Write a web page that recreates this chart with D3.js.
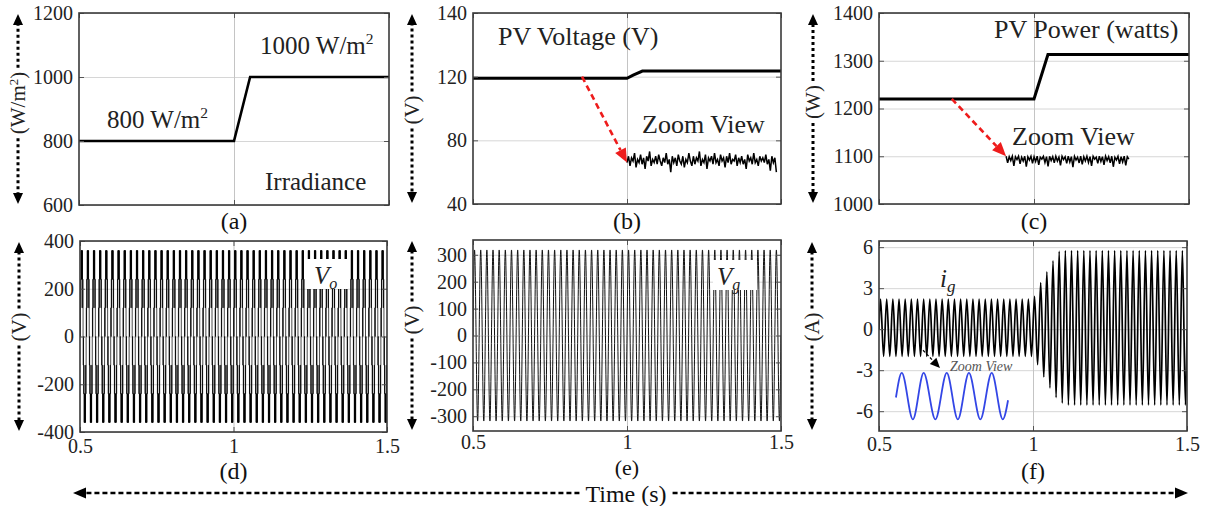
<!DOCTYPE html>
<html lang="en">
<head>
<meta charset="utf-8">
<title>PV system waveforms</title>
<script src="https://cdn.jsdelivr.net/npm/d3@7"></script>
<style>
  body { margin: 0; background: #fff; }
  svg, svg text { font-family: "Liberation Serif", "DejaVu Serif", serif !important; }
</style>
</head>
<body>
<script>
var W = 1210, H = 506;
var SERIF = "'Liberation Serif', 'DejaVu Serif', serif";

// ---------- data ----------
var timeDomain = [0.5, 1.5];
var timeTicks = [0.5, 1, 1.5];
var timeTickLabels = ["0.5", "1", "1.5"];

// (a) irradiance
var irrTime = [0.5, 1.0, 1.052, 1.5];
var irrValue = [800, 800, 1000, 1000];
var irrTicks = [600, 800, 1000, 1200];

// (b) PV voltage + zoom view ripple (1.0 -> 1.485 s)
var pvvTime = [0.5, 1.0, 1.02, 1.05, 1.5];
var pvvValue = [119, 119, 121, 123.5, 123.5];
var pvvTicks = [40, 80, 120, 160];
var pvvTickLabels = ["40", "80", "120", "140"];
var pvvZoom = [66,70,64,69,67,72,63,68,66,71, 65,69,62,70,67,73,64,68,66,70,
               65,71,67,64,69,66,72,65,68,60, 70,66,69,64,71,67,65,70,63,68,
               66,72,67,64,70,65,69,67,73,64, 68,66,71,62,69,67,70,65,72,66,
               68,64,71,67,69,63,70,66,72,65, 68,67,71,64,69,66,70,65,68,62,
               71,67,69,65,72,66,68,64,70,67, 69,66,71,65,68,61,70,66,69,60];
var pvvZoomSpan = [1.0, 1.485];

// (c) PV power + zoom view ripple (0.91 -> 1.306 s)
var pvpTime = [0.5, 1.0, 1.045, 1.5];
var pvpValue = [1220, 1220, 1313, 1313];
var pvpTicks = [1000, 1100, 1200, 1300, 1400];
var pvpZoom = [1100,1086,1099,1091,1100,1080,1099,1093,1100,1084,
               1098,1090,1100,1078,1099,1092,1100,1085,1099,1089,
               1100,1082,1098,1094,1100,1087,1099,1079,1100,1091,
               1099,1086,1100,1090,1098,1081,1100,1093,1099,1085,
               1100,1088,1099,1077,1100,1092,1098,1086,1100,1083,
               1099,1090,1100,1087,1099,1080,1100,1094,1098,1085,
               1100,1089,1099,1082,1100,1091,1099,1086,1100,1078,
               1098,1092,1100,1084,1099,1088,1100,1081,1099,1094];
var pvpZoomSpan = [0.91, 1.306];

// (d) inverter output Vo: one cycle of switching levels (x 120 V), 50 cycles
var voLevels = [0,1,0,1,2,1,2,3,2,3,2,3,2,3,2,3,2,1,2,1,
                0,-1,0,-1,-2,-1,-2,-3,-2,-3,-2,-3,-2,-3,-2,-3,-2,-1,-2,-1];
var voStep = 120;
var voCycles = 50;
var voTicks = [-400, -200, 0, 200, 400];

// (e) grid voltage Vg: peak / trough per cycle
var vgPeak = [318,318,318,318,318,318,318,318,318,318, 318,318,318,318,318,318,318,318,318,318,
              318,318,318,318,318,318,318,318,318,318, 318,318,318,318,318,318,318,318,318,318,
              318,318,318,318,318,318,318,318,318,318];
var vgTrough = [-318,-318,-318,-318,-318,-318,-318,-318,-318,-318, -318,-318,-318,-318,-318,-318,-318,-318,-318,-318,
                -318,-318,-318,-318,-318,-318,-318,-318,-318,-318, -318,-318,-318,-318,-318,-318,-318,-318,-318,-318,
                -318,-318,-318,-318,-318,-318,-318,-318,-318,-318];
var vgTicks = [-300, -200, -100, 0, 100, 200, 300];

// (f) grid current ig: peak / trough per cycle
var igPeak = [2.2,2.2,2.2,2.2,2.2,2.2,2.2,2.2,2.2,2.2, 2.2,2.2,2.2,2.2,2.2,2.2,2.2,2.2,2.2,2.2,
              2.2,2.2,2.2,2.2,2.2,2.4,3.4,4.2,5.0,5.7, 5.75,5.75,5.75,5.75,5.75,5.75,5.75,5.75,5.75,5.75,
              5.75,5.75,5.75,5.75,5.75,5.75,5.75,5.75,5.75,5.75];
var igTrough = [-2.0,-2.0,-2.0,-2.0,-2.0,-2.0,-2.0,-2.0,-2.0,-2.0, -2.0,-2.0,-2.0,-2.0,-2.0,-2.0,-2.0,-2.0,-2.0,-2.0,
                -2.0,-2.0,-2.0,-2.0,-2.0,-2.6,-3.5,-4.3,-5.0,-5.4, -5.55,-5.55,-5.55,-5.55,-5.55,-5.55,-5.55,-5.55,-5.55,-5.55,
                -5.55,-5.55,-5.55,-5.55,-5.55,-5.55,-5.55,-5.55,-5.55,-5.55];
var igTicks = [-6, -3, 0, 3, 6];
// zoom-view inset (blue)
var insetTime = [0.555, 0.574, 0.61, 0.645, 0.683, 0.72, 0.756, 0.792, 0.829, 0.866, 0.902, 0.919];
var insetValue = [-5.0, -3.2, -6.6, -3.2, -6.6, -3.2, -6.6, -3.2, -6.6, -3.2, -6.6, -5.2];

// ---------- layout ----------
var panels = [
  { id: "a", x: 79,  y: 13,  w: 310, h: 192, yDomain: [600, 1200], yTicks: irrTicks, title: "(W/m2)", titleX: 18,  titleY: 103, tag: "(a)", tagY: 229, tagSize: 24 },
  { id: "b", x: 473, y: 13,  w: 308, h: 191, yDomain: [40, 160],   yTicks: pvvTicks, yLabels: pvvTickLabels, title: "(V)", titleX: 412, titleY: 110, tag: "(b)", tagY: 229, tagSize: 24 },
  { id: "c", x: 879, y: 13,  w: 310, h: 191, yDomain: [1000, 1400], yTicks: pvpTicks, title: "(W)", titleX: 813, titleY: 102, tag: "(c)", tagY: 229, tagSize: 24 },
  { id: "d", x: 80,  y: 241, w: 307, h: 191, yDomain: [-400, 400], yTicks: voTicks, title: "(V)", titleX: 19,  titleY: 327, tag: "(d)", tagY: 479, tagSize: 24, xLabels: true, xPad: 7 },
  { id: "e", x: 473, y: 240, w: 308, h: 191, yDomain: [-355, 355], yTicks: vgTicks, title: "(V)", titleX: 412, titleY: 320, tag: "(e)", tagY: 475, tagSize: 22, xLabels: true, xPad: 4 },
  { id: "f", x: 879, y: 241, w: 308, h: 190, yDomain: [-7.45, 6.45], yTicks: igTicks, title: "(A)", titleX: 812, titleY: 327, tag: "(f)", tagY: 479, tagSize: 24, xLabels: true, xPad: 6 }
];

var svg = d3.select("body").append("svg")
    .attr("width", W)
    .attr("height", H)
    .attr("font-family", SERIF);

var P = {};

// ---------- helpers ----------
function head(sel, x1, y1, x2, y2, len, wid, color) {
  var a = Math.atan2(y2 - y1, x2 - x1);
  var bx = x2 - len * Math.cos(a), by = y2 - len * Math.sin(a);
  var px = -Math.sin(a) * wid / 2, py = Math.cos(a) * wid / 2;
  sel.append("path")
     .attr("d", "M" + x2 + "," + y2 + "L" + (bx + px) + "," + (by + py) + "L" + (bx - px) + "," + (by - py) + "Z")
     .attr("fill", color);
  return [bx, by];
}

function dashedArrow(sel, x1, y1, x2, y2, o) {
  var b = head(sel, x1, y1, x2, y2, o.len, o.wid, o.color);
  sel.append("line")
     .attr("x1", x1).attr("y1", y1).attr("x2", b[0]).attr("y2", b[1])
     .attr("stroke", o.color).attr("stroke-width", o.sw)
     .attr("stroke-dasharray", o.dash);
}

// ---------- panels ----------
panels.forEach(function(p) {
  var x = d3.scaleLinear().domain(timeDomain).range([0, p.w]);
  var y = d3.scaleLinear().domain(p.yDomain).range([p.h, 0]);
  var g = svg.append("g").attr("transform", "translate(" + p.x + "," + p.y + ")");
  p.xs = x; p.ys = y; p.g = g;
  P[p.id] = p;

  g.append("clipPath").attr("id", "clip-" + p.id)
   .append("rect").attr("width", p.w).attr("height", p.h);

  // grid
  g.append("g")
   .call(d3.axisLeft(y).tickValues(p.yTicks).tickSize(-p.w).tickFormat(""))
   .call(function(s) { s.select(".domain").remove(); })
   .selectAll("line").attr("stroke", "#d6d6d6").attr("stroke-width", 1);
  g.append("g")
   .attr("transform", "translate(0," + p.h + ")")
   .call(d3.axisBottom(x).tickValues([1]).tickSize(-p.h).tickFormat(""))
   .call(function(s) { s.select(".domain").remove(); })
   .selectAll("line").attr("stroke", "#c4c4c4").attr("stroke-width", 1);

  // y labels
  g.append("g")
   .call(d3.axisLeft(y).tickValues(p.yTicks).tickSize(0).tickPadding(6)
     .tickFormat(function(d, i) { return p.yLabels ? p.yLabels[i] : d; }))
   .call(function(s) { s.select(".domain").remove(); })
   .attr("font-family", SERIF).attr("font-size", 20)
   .selectAll("text").attr("fill", "#222");

  if (p.xLabels) {
    g.append("g")
     .attr("transform", "translate(0," + p.h + ")")
     .call(d3.axisBottom(x).tickValues(timeTicks).tickSize(0).tickPadding(p.xPad)
       .tickFormat(function(d, i) { return timeTickLabels[i]; }))
     .call(function(s) { s.select(".domain").remove(); })
     .attr("font-family", SERIF).attr("font-size", 20)
     .selectAll("text").attr("fill", "#222");
  }

  p.plot = g.append("g").attr("clip-path", "url(#clip-" + p.id + ")");
});

var line = function(p, curve) {
  return d3.line()
    .x(function(d) { return p.xs(d[0]); })
    .y(function(d) { return p.ys(d[1]); })
    .curve(curve || d3.curveLinear);
};

// (a)
var pa = P.a;
pa.plot.append("path")
  .datum(irrTime.map(function(t, i) { return [t, irrValue[i]]; }))
  .attr("d", line(pa)).attr("fill", "none").attr("stroke", "#000").attr("stroke-width", 2.6);

// (b)
var pb = P.b;
pb.plot.append("path")
  .datum(pvvTime.map(function(t, i) { return [t, pvvValue[i]]; }))
  .attr("d", line(pb)).attr("fill", "none").attr("stroke", "#000").attr("stroke-width", 3);
pb.plot.append("path")
  .datum(pvvZoom.map(function(v, i) {
    return [pvvZoomSpan[0] + (pvvZoomSpan[1] - pvvZoomSpan[0]) * i / (pvvZoom.length - 1), v];
  }))
  .attr("d", line(pb)).attr("fill", "none").attr("stroke", "#000").attr("stroke-width", 1.5);

// (c)
var pc = P.c;
pc.plot.append("path")
  .datum(pvpTime.map(function(t, i) { return [t, pvpValue[i]]; }))
  .attr("d", line(pc)).attr("fill", "none").attr("stroke", "#000").attr("stroke-width", 3);
pc.plot.append("path")
  .datum(pvpZoom.map(function(v, i) {
    return [pvpZoomSpan[0] + (pvpZoomSpan[1] - pvpZoomSpan[0]) * i / (pvpZoom.length - 1), v];
  }))
  .attr("d", line(pc)).attr("fill", "none").attr("stroke", "#000").attr("stroke-width", 1.5);

// (d)
var pd = P.d;
var voPoints = [];
for (var k = 0; k < voCycles; k++) {
  voLevels.forEach(function(lv, j) {
    voPoints.push([0.5 + (k + j / voLevels.length) / voCycles, lv * voStep]);
  });
}
voPoints.push([1.5, 0]);
pd.plot.append("path")
  .datum(voPoints)
  .attr("d", line(pd, d3.curveStepAfter)).attr("fill", "none").attr("stroke", "#000").attr("stroke-width", 0.7);

// (e)
var pe = P.e;
var vgPoints = [[0.5, 0]];
vgPeak.forEach(function(v, k) {
  vgPoints.push([0.5 + (k + 0.25) / vgPeak.length, v]);
  vgPoints.push([0.5 + (k + 0.75) / vgPeak.length, vgTrough[k]]);
});
vgPoints.push([1.5, 0]);
pe.plot.append("path")
  .datum(vgPoints)
  .attr("d", line(pe, d3.curveMonotoneX)).attr("fill", "none").attr("stroke", "#111").attr("stroke-width", 1);

// (f)
var pf = P.f;
var igPoints = [[0.5, 0]];
igPeak.forEach(function(v, k) {
  igPoints.push([0.5 + (k + 0.25) / igPeak.length, v]);
  igPoints.push([0.5 + (k + 0.75) / igPeak.length, igTrough[k]]);
});
igPoints.push([1.5, 0]);
pf.plot.append("path")
  .datum(igPoints)
  .attr("d", line(pf, d3.curveMonotoneX)).attr("fill", "none").attr("stroke", "#000").attr("stroke-width", 1.7);
pf.plot.append("path")
  .datum(insetTime.map(function(t, i) { return [t, insetValue[i]]; }))
  .attr("d", line(pf, d3.curveMonotoneX)).attr("fill", "none").attr("stroke", "#3346e6").attr("stroke-width", 1.8);

// ---------- frames + inner ticks ----------
panels.forEach(function(p) {
  var g = p.g;
  [["axisLeft", 0], ["axisRight", p.w]].forEach(function(a) {
    g.append("g").attr("transform", "translate(" + a[1] + ",0)")
     .call(d3[a[0]](p.ys).tickValues(p.yTicks).tickSize(-5).tickFormat(""))
     .call(function(s) { s.select(".domain").remove(); })
     .selectAll("line").attr("stroke", "#555");
  });
  [["axisBottom", p.h], ["axisTop", 0]].forEach(function(a) {
    g.append("g").attr("transform", "translate(0," + a[1] + ")")
     .call(d3[a[0]](p.xs).tickValues(timeTicks).tickSize(-5).tickFormat(""))
     .call(function(s) { s.select(".domain").remove(); })
     .selectAll("line").attr("stroke", "#555");
  });
  g.append("rect").attr("width", p.w).attr("height", p.h)
   .attr("fill", "none").attr("stroke", "#3a3a3a").attr("stroke-width", 1.6);

  // panel tag
  svg.append("text").attr("x", p.x + p.w / 2).attr("y", p.tagY)
     .attr("text-anchor", "middle").attr("font-size", p.tagSize).attr("fill", "#111").text(p.tag);

  // vertical axis title with dashed double arrow
  var tg = svg.append("g").attr("transform", "translate(" + p.titleX + "," + p.titleY + ") rotate(-90)");
  var tt = tg.append("text").attr("text-anchor", "middle").attr("dy", "0.33em")
     .attr("font-size", 21).attr("fill", "#222");
  if (p.title === "(W/m2)") {
    tt.append("tspan").text("(W/m");
    tt.append("tspan").attr("font-size", 13).attr("dy", "-0.55em").text("2");
    tt.append("tspan").attr("dy", "0.35em").text(")");
  } else {
    tt.text(p.title);
  }
  var half = tt.node().getComputedTextLength() / 2 + 4;
  var o = { len: 11, wid: 10, color: "#000", sw: 3, dash: "3,3" };
  dashedArrow(svg, p.titleX, p.titleY - half, p.titleX, p.y + 1, o);
  dashedArrow(svg, p.titleX, p.titleY + half, p.titleX, p.y + p.h - 1, o);
});

// ---------- annotations ----------
function sup(sel, x, yb, base, size) {
  var t = sel.append("text").attr("x", x).attr("y", yb).attr("font-size", size).attr("fill", "#222");
  t.append("tspan").text(base);
  t.append("tspan").attr("font-size", size * 0.62).attr("dy", -size * 0.42).text("2");
  return t;
}
sup(svg, 260, 54, "1000 W/m", 25);
sup(svg, 107, 128, "800 W/m", 25);
svg.append("text").attr("x", 265).attr("y", 190).attr("font-size", 25).attr("fill", "#222").text("Irradiance");

svg.append("text").attr("x", 498).attr("y", 45).attr("font-size", 26).attr("fill", "#222").text("PV Voltage (V)");
svg.append("text").attr("x", 642).attr("y", 133).attr("font-size", 26).attr("fill", "#222").text("Zoom View");
svg.append("text").attr("x", 994).attr("y", 38).attr("font-size", 26).attr("fill", "#222").text("PV Power (watts)");
svg.append("text").attr("x", 1012).attr("y", 145).attr("font-size", 26).attr("fill", "#222").text("Zoom View");

// red zoom arrows
var red = { len: 14, wid: 12, color: "#ee1c1c", sw: 2.6, dash: "6,4" };
dashedArrow(pb.g, pb.xs(0.854), pb.ys(120), pb.xs(1.0), pb.ys(66), red);
dashedArrow(pc.g, pc.xs(0.735), pc.ys(1220), pc.xs(0.91), pc.ys(1100), red);

// Vo / Vg labels in white boxes
function subLabel(x0, y0, bw, bh, vx, vb, sub) {
  svg.append("rect").attr("x", x0).attr("y", y0).attr("width", bw).attr("height", bh).attr("fill", "#fff");
  var t = svg.append("text").attr("x", vx).attr("y", vb).attr("font-size", 25)
     .attr("font-style", "italic").attr("fill", "#222");
  t.append("tspan").text("V");
  t.append("tspan").attr("font-size", 16).attr("dy", 5).text(sub);
}
subLabel(306, 259, 42, 30, 314, 284, "o");
subLabel(713, 260, 44, 30, 717, 285, "g");

// ig label
var ig = svg.append("text").attr("x", 940).attr("y", 287).attr("font-size", 25)
   .attr("font-style", "italic").attr("fill", "#222");
ig.append("tspan").text("i");
ig.append("tspan").attr("font-size", 17).attr("dy", 5).text("g");

// (f) zoom view
dashedArrow(pf.g, pf.xs(0.643), pf.ys(-1.54), pf.xs(0.698), pf.ys(-2.85),
  { len: 10, wid: 9, color: "#000", sw: 1.2, dash: "3,2" });
svg.append("text").attr("x", 950).attr("y", 371).attr("font-size", 14)
   .attr("font-style", "italic").attr("fill", "#555").text("Zoom View");

// ---------- time axis ----------
var time = svg.append("text").attr("x", 626).attr("y", 502).attr("text-anchor", "middle")
   .attr("font-size", 24).attr("fill", "#111").text("Time (s)");
var tw = time.node().getComputedTextLength() / 2 + 6;
var ta = { len: 13, wid: 11, color: "#000", sw: 2.5, dash: "5,3" };
dashedArrow(svg, 626 - tw, 493, 73, 493, ta);
dashedArrow(svg, 626 + tw, 493, 1188, 493, ta);
</script>
</body>
</html>
